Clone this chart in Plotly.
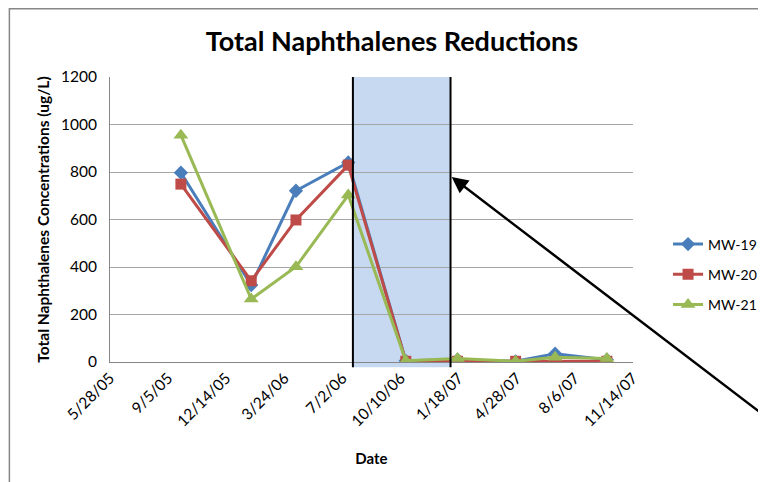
import plotly.graph_objects as go
from datetime import date

# ---- data ----
sample_dates = ["2005-09-27", "2006-01-26", "2006-04-13", "2006-07-12", "2006-10-19",
                "2007-01-16", "2007-04-26", "2007-07-03", "2007-09-30"]
mw19 = [797, 324, 721, 840, 5, 10, 3, 35, 10]
mw20 = [749, 342, 598, 829, 3, 3, 3, 3, 3]
mw21 = [955, 265, 401, 703, 5, 15, 3, 20, 15]

tick_labels = ["5/28/05", "9/5/05", "12/14/05", "3/24/06", "7/2/06", "10/10/06",
               "1/18/07", "4/28/07", "8/6/07", "11/14/07"]
shade_start = "2006-07-20"
shade_end = "2007-01-04"
arrow_tip_date = "2007-01-06"
arrow_tip_value = 779


def label_to_iso(s):
    m, d, y = s.split("/")
    return date(2000 + int(y), int(m), int(d)).isoformat()


tick_vals = [label_to_iso(s) for s in tick_labels]

FONT = "Lato"
# page is rendered with an 8px body margin -> figure coordinates = page - 8
ML, MT, PW, PH = 102, 69, 525, 285
W, H = 766, 482

fig = go.Figure()

series = [
    ("MW-19", mw19, "#4a7ebb", "diamond", 11),
    ("MW-20", mw20, "#be4b48", "square", 11),
    ("MW-21", mw21, "#98b954", "triangle-up", 13),
]
for name, vals, col, sym, sz in series:
    fig.add_trace(go.Scatter(
        x=sample_dates, y=vals, name=name, mode="lines+markers",
        line=dict(color=col, width=3),
        marker=dict(color=col, symbol=sym, size=sz),
        legendgroup=name,
    ))

# shaded region + boundary lines
fig.add_shape(type="rect", xref="x", yref="paper", x0=shade_start, x1=shade_end,
              y0=-0.018, y1=1, fillcolor="#c6d9f0", line=dict(width=0), layer="below")
for xv in (shade_start, shade_end):
    fig.add_shape(type="line", xref="x", yref="paper", x0=xv, x1=xv, y0=-0.018, y1=1,
                  line=dict(color="black", width=2), layer="above")

# outer chart border
fig.add_shape(type="rect", xref="paper", yref="paper",
              x0=(1 - ML) / PW, x1=2, y0=-2, y1=(MT + PH - 0.75) / PH,
              line=dict(color="#878787", width=1.5), fillcolor="rgba(0,0,0,0)")

# arrow
fig.add_annotation(x=arrow_tip_date, y=arrow_tip_value, xref="x", yref="y", text="",
                   showarrow=True, ax=347, ay=246, arrowcolor="black", arrowwidth=2.5,
                   arrowhead=2, arrowsize=1.3)

fig.update_layout(
    width=W, height=H,
    margin=dict(l=ML, r=W - ML - PW, t=MT, b=H - MT - PH),
    paper_bgcolor="white", plot_bgcolor="white",
    font=dict(family=FONT, color="#000000", size=15),
    title=dict(text="<b>Total Naphthalenes Reductions</b>", x=384 / W, xanchor="center",
               y=1 - 34 / H, yanchor="middle", yref="container",
               font=dict(family=FONT, size=27, color="#000000")),
    showlegend=True,
    legend=dict(x=1.067, xanchor="left", y=0.4685, yanchor="top",
                font=dict(family=FONT, size=14), tracegroupgap=9,
                bgcolor="rgba(0,0,0,0)", traceorder="grouped"),
    xaxis=dict(type="date", range=[tick_vals[0], tick_vals[-1]],
               tickmode="array", tickvals=tick_vals, ticktext=tick_labels,
               tickangle=-45, tickfont=dict(size=15.5), showgrid=False, automargin=False,
               showline=True, linecolor="#868686", linewidth=1, zeroline=False,
               title=dict(text="<b>Date</b>", font=dict(size=15), standoff=24)),
    yaxis=dict(range=[0, 1200], dtick=200, tickfont=dict(size=15.5), automargin=False,
               showgrid=True, gridcolor="#a6a6a6", gridwidth=1, ticklabelstandoff=9,
               showline=True, linecolor="#868686", linewidth=1, zeroline=False,
               ticks="", title=dict(text="<b>Total Naphthalenes Concentrations (ug/L)</b>",
                                    font=dict(size=15.5), standoff=7)),
)

fig.write_html("out.html")
